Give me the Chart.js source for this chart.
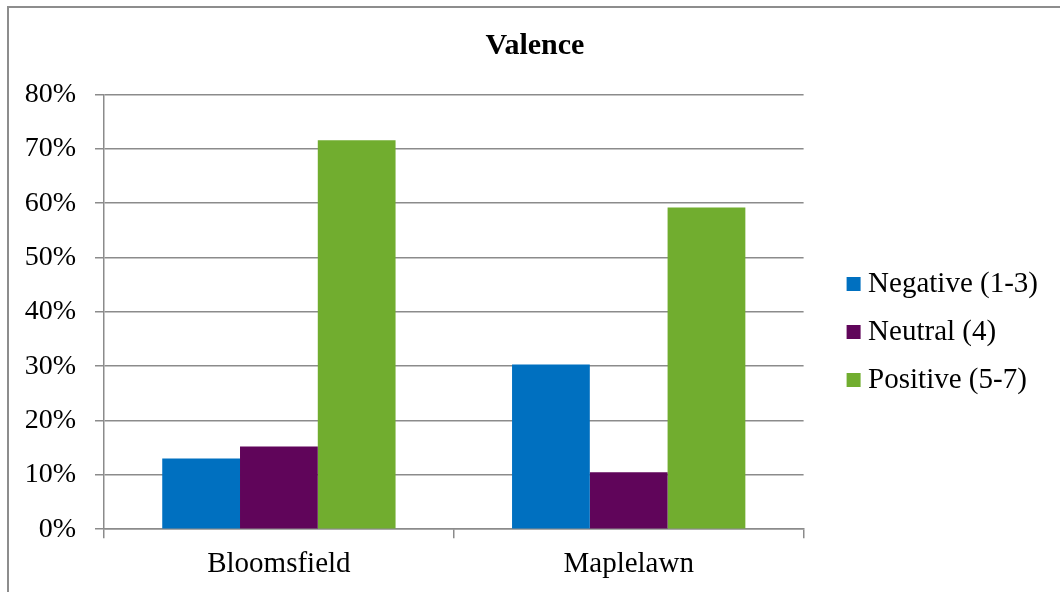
<!DOCTYPE html>
<html>
<head>
<meta charset="utf-8">
<script src="https://cdn.jsdelivr.net/npm/chart.js@4"></script>
<style>
  html, body { margin: 0; padding: 0; background: #ffffff; }
  body { width: 1060px; height: 592px; position: relative; overflow: hidden; }
  #frame {
    position: absolute; left: 7px; top: 6px; width: 1060px; height: 600px;
    border-left: 2px solid #8d8d8d; border-top: 2px solid #8d8d8d;
  }
  #wrap { position: absolute; left: 9px; top: 8px; width: 1051px; height: 584px; }
</style>
</head>
<body>
<div id="frame"></div>
<div id="wrap"><canvas id="chart"></canvas></div>
<script>
const categories = ['Bloomsfield', 'Maplelawn'];
const seriesNames = ['Negative (1-3)', 'Neutral (4)', 'Positive (5-7)'];
const negativeValues = [0.130, 0.303];
const neutralValues = [0.152, 0.105];
const positiveValues = [0.716, 0.592];
const seriesColors = ['#0070c0', '#60055a', '#71ad2f'];

const FONT = "'Liberation Serif', 'Times New Roman', serif";
const GRID = '#8b8b8b';

// Moves the legend block and the title after layout so the plot area keeps its width.
const boxOffsets = {
  id: 'boxOffsets',
  afterLayout(chart) {
    const lg = chart.legend;
    if (lg) {
      lg.left += 31; lg.right += 31;
      lg.top += 33; lg.bottom += 33;
    }
    const tt = chart.titleBlock;
    if (tt) {
      tt.left += 22; tt.right += 22;
    }
  }
};

new Chart(document.getElementById('chart'), {
  type: 'bar',
  data: {
    labels: categories,
    datasets: [negativeValues, neutralValues, positiveValues].map((vals, i) => ({
      label: seriesNames[i],
      data: vals,
      backgroundColor: seriesColors[i],
      borderWidth: 0,
      categoryPercentage: 0.667,
      barPercentage: 1.0
    }))
  },
  plugins: [boxOffsets],
  options: {
    responsive: true,
    maintainAspectRatio: false,
    animation: false,
    layout: { padding: { left: 0, right: 43, top: 0, bottom: 2 } },
    plugins: {
      title: {
        display: true,
        text: 'Valence',
        color: '#000',
        font: { family: FONT, size: 30, weight: 'bold' },
        padding: { top: 20.5, bottom: 30 }
      },
      legend: {
        display: true,
        position: 'right',
        labels: {
          color: '#000',
          font: { family: FONT, size: 29 },
          usePointStyle: true,
          pointStyle: 'rect',
          boxWidth: 0.01,
          boxHeight: 14,
          padding: 19
        }
      },
      tooltip: { enabled: false }
    },
    scales: {
      x: {
        grid: {
          display: true,
          offset: true,
          drawOnChartArea: false,
          drawTicks: true,
          tickLength: 9,
          color: GRID,
          lineWidth: 1.5
        },
        border: { display: true, color: GRID, width: 1.5 },
        ticks: { color: '#000', font: { family: FONT, size: 29 }, padding: 8.5 }
      },
      y: {
        min: 0,
        max: 0.8,
        afterFit(scale) { scale.width = 95; },
        grid: { color: GRID, lineWidth: 1.5, tickLength: 9, drawTicks: true },
        border: { display: true, color: GRID, width: 1.5 },
        ticks: {
          stepSize: 0.1,
          color: '#000',
          font: { family: FONT, size: 28 },
          padding: 19,
          callback: v => Math.round(v * 100) + '%'
        }
      }
    }
  }
});
</script>
</body>
</html>
